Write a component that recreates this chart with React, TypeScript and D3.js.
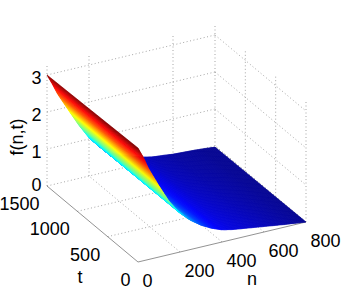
import React from "react";
import * as d3 from "d3";

const nTicks = [0, 200, 400, 600, 800];
const tTicks = [0, 500, 1000, 1500];
const zTicks = [0, 1, 2, 3];
const nGrid = [0, 25, 50, 100, 150, 200, 250, 300, 350, 400, 450, 500, 600, 700, 800];
const fAtT0 = [3.08, 2.8, 2.46, 1.92, 1.42, 1.05, 0.79, 0.59, 0.44, 0.33, 0.27, 0.23, 0.15, 0.07, 0.0];
const fAtT1500 = [3.0, 2.72, 2.42, 1.93, 1.45, 1.03, 0.72, 0.5, 0.36, 0.27, 0.17, 0.11, 0.05, 0.02, -0.03];
const nBackWallGaps = [400];
const zTop = 3.3;

const FONT = "'Liberation Sans', Arial, sans-serif";
const GRID = "#808080";

// oblique projection of the box
const nToX = d3.scaleLinear().domain([0, 800]).range([0, 168]);
const nToY = d3.scaleLinear().domain([0, 800]).range([0, -40]);
const tToX = d3.scaleLinear().domain([0, 1500]).range([0, -91]);
const tToY = d3.scaleLinear().domain([0, 1500]).range([0, -76]);
const zToY = d3.scaleLinear().domain([0, 3]).range([0, -111]);
const ox = 138;
const oy = 262;
const proj = (n: number, t: number, z: number): [number, number] => [
  ox + nToX(n) + tToX(t),
  oy + nToY(n) + tToY(t) + zToY(z),
];

const jet = d3
  .scaleLinear<string>()
  .domain([0, 0.125, 0.375, 0.625, 0.875, 1].map((d) => d * 3.05))
  .range(["#00008f", "#0000ff", "#00ffff", "#ffff00", "#ff0000", "#800000"])
  .clamp(true);

const f0 = d3.scaleLinear().domain(nGrid).range(fAtT0);
const f1 = d3.scaleLinear().domain(nGrid).range(fAtT1500);

const line = d3.line();
const seg = (a: [number, number, number], b: [number, number, number]) =>
  line([proj(...a), proj(...b)]) as string;

function buildStrips() {
  const ns = d3.range(800, -1, -4);
  const out: { d: string; id: string; a: string; b: string; p: [number, number]; q: [number, number] }[] = [];
  for (let i = 0; i < ns.length - 1; i++) {
    const n0 = ns[i], n1 = ns[i + 1], m = (n0 + n1) / 2;
    const pts: [number, number][] = [
      proj(n0, 1500, f1(n0)),
      proj(n1, 1500, f1(n1)),
      proj(n1, 0, f0(n1)),
      proj(n0, 0, f0(n0)),
    ];
    out.push({
      d: (line(pts) as string) + "Z",
      id: "s" + i,
      a: jet(f1(m)),
      b: jet(f0(m)),
      p: proj(m, 1500, f1(m)),
      q: proj(m, 0, f0(m)),
    });
  }
  return out;
}

const Grid = () => (
  <g fill="none" stroke={GRID} strokeWidth={0.7} strokeDasharray="1 2.5">
    {nTicks.map((n) => (
      <g key={"n" + n}>
        {!nBackWallGaps.includes(n) && <path d={seg([n, 1500, 0], [n, 1500, zTop])} />}
        {n > 0 && <path d={seg([n, 0, 0], [n, 1500, 0])} />}
      </g>
    ))}
    {tTicks.slice(0, 3).map((t) => (
      <g key={"t" + t}>
        <path d={seg([800, t, 0], [800, t, zTop])} />
        {t > 0 && <path d={seg([0, t, 0], [800, t, 0])} />}
      </g>
    ))}
    <path d={seg([0, 1500, 0], [800, 1500, 0])} />
    {zTicks.slice(1).map((z) => (
      <g key={"z" + z}>
        <path d={seg([0, 1500, z], [800, 1500, z])} />
        <path d={seg([800, 1500, z], [800, 0, z])} />
      </g>
    ))}
  </g>
);

export default function App() {
  const strips = buildStrips();
  const txt = { fontFamily: FONT, fontSize: 18, fill: "#000" } as const;
  return (
    <svg
      width={341}
      height={294}
      viewBox="0 0 341 294"
      style={{ position: "fixed", left: 0, top: 0, background: "#fff" }}
    >
      <defs>
        {strips.map((s) => (
          <linearGradient key={s.id} id={s.id} gradientUnits="userSpaceOnUse" x1={s.p[0]} y1={s.p[1]} x2={s.q[0]} y2={s.q[1]}>
            <stop offset="0" stopColor={s.a} />
            <stop offset="1" stopColor={s.b} />
          </linearGradient>
        ))}
      </defs>
      <Grid />
      <g fill="none" stroke="#777" strokeWidth={0.8}>
        <path d={seg([0, 0, 0], [800, 0, 0])} />
        <path d={seg([0, 0, 0], [0, 1500, 0])} />
        <path d={seg([800, 0, 0], [800, 1500, 0])} strokeDasharray="1 2.5" />
      </g>
      <g>
        {strips.map((s) => (
          <path key={s.id} d={s.d} fill={`url(#${s.id})`} stroke={`url(#${s.id})`} strokeWidth={0.6} />
        ))}
      </g>
      {zTicks.map((z) => (
        <text key={z} {...txt} x={41.5} y={proj(0, 1500, z)[1] + (z === 0 ? -1 : 3)} textAnchor="end" dominantBaseline="central">
          {z}
        </text>
      ))}
      {tTicks.map((t) => (
        <text key={t} {...txt} x={proj(0, t, 0)[0] - 7.5} y={proj(0, t, 0)[1] + 18} textAnchor="end" dominantBaseline="central">
          {t}
        </text>
      ))}
      {nTicks.map((n) => (
        <text key={n} {...txt} x={proj(n, 0, 0)[0] + 4.5} y={proj(n, 0, 0)[1] + 19} textAnchor="start" dominantBaseline="central">
          {n}
        </text>
      ))}
      <text {...txt} x={80} y={277} textAnchor="middle" dominantBaseline="central">t</text>
      <text {...txt} x={252} y={279} textAnchor="middle" dominantBaseline="central">n</text>
      <text {...txt} transform="translate(17,137) rotate(-90)" textAnchor="middle" dominantBaseline="central">f(n,t)</text>
    </svg>
  );
}
